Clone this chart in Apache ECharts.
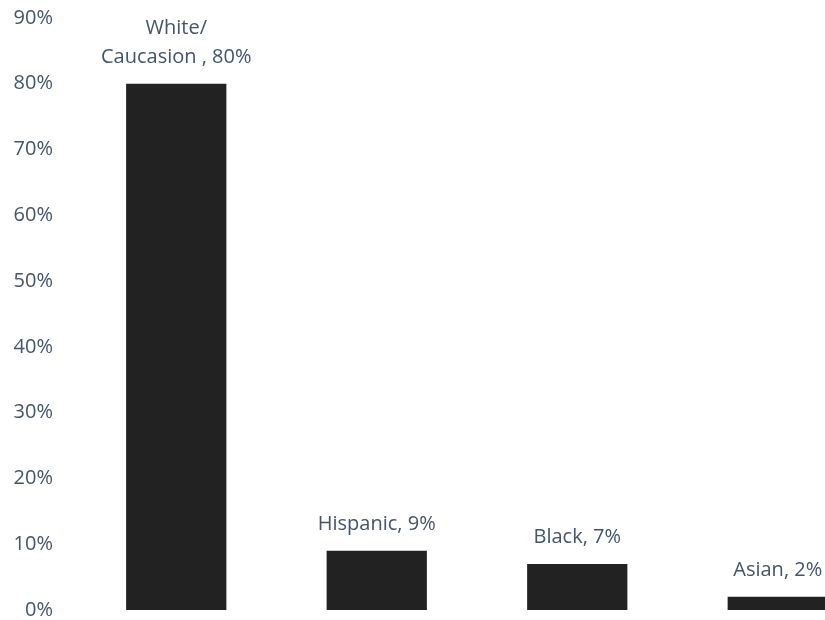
<!DOCTYPE html>
<html>
<head>
<meta charset="utf-8">
<script src="https://cdn.jsdelivr.net/npm/echarts@6/dist/echarts.min.js"></script>
<style>html,body{margin:0;padding:0;background:#fff;overflow:hidden;width:825px;height:620px}#c{width:900px;height:620px}</style>
</head>
<body>
<div id="c"></div>
<script>
const categories = ["White/ Caucasion", "Hispanic", "Black", "Asian"];
const labelNames = ["White/\nCaucasion ", "Hispanic", "Black", "Asian"];
const values = [80, 9, 7, 2];
const yTicks = [0, 10, 20, 30, 40, 50, 60, 70, 80, 90];

const chart = echarts.init(document.getElementById('c'), null, {renderer: 'canvas'});
const textColor = '#44546A';
const font = '"Open Sans", "Liberation Sans", sans-serif';
chart.setOption({
  animation: false,
  grid: {left: 76, width: 802, top: 18, bottom: 8, containLabel: false},
  xAxis: {
    type: 'category',
    data: categories,
    axisLine: {show: false},
    axisTick: {show: false},
    axisLabel: {show: false}
  },
  yAxis: {
    type: 'value',
    min: yTicks[0],
    max: yTicks[yTicks.length - 1],
    interval: 10,
    axisLine: {show: false},
    axisTick: {show: false},
    splitLine: {show: false},
    axisLabel: {
      formatter: v => v + '%',
      color: textColor,
      fontFamily: font,
      fontSize: 20,
      margin: 23
    }
  },
  series: [{
    type: 'bar',
    data: values,
    barWidth: '50%',
    itemStyle: {color: '#222222'},
    label: {
      show: true,
      position: 'top',
      distance: 12,
      color: textColor,
      fontFamily: font,
      fontSize: 20,
      lineHeight: 29,
      formatter: p => labelNames[p.dataIndex] + ', ' + p.value + '%'
    }
  }]
});
</script>
</body>
</html>
